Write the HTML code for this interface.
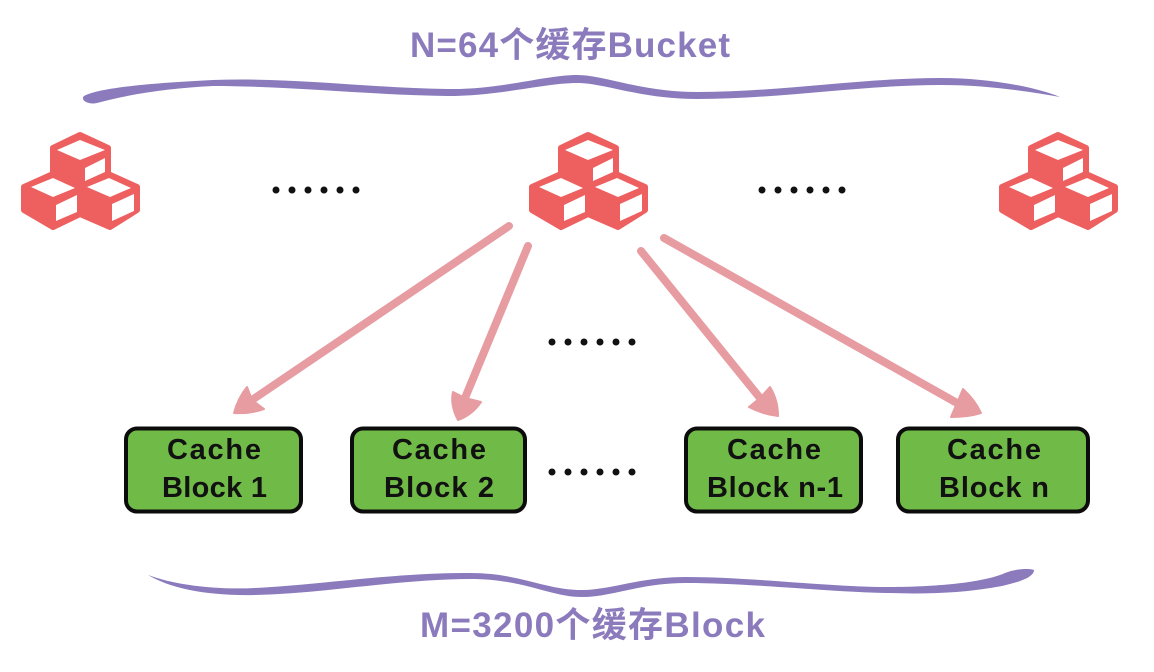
<!DOCTYPE html>
<html><head><meta charset="utf-8"><style>
html,body{margin:0;padding:0;background:#fff}
svg{display:block}
text{font-family:"Liberation Sans","Noto Sans CJK SC",sans-serif;font-weight:700}
.c{font-size:29px;fill:#111}
.p{font-size:35px;fill:#8b7bbd}
</style></head><body>
<svg width="1154" height="672" viewBox="0 0 1154 672" xmlns="http://www.w3.org/2000/svg">
<defs>
<g id="cube">
<path d="M80 135 L108 148 V174 L137 187 V210 L110 227 L80 214 L53 227 L24 210 V187 L53 174 V148 Z" fill="#ee5f5f" stroke="#ee5f5f" stroke-width="6" stroke-linejoin="round"/>
<g fill="#fff">
<path d="M57 150 L80 140 L105 150 L80 160Z"/>
<path d="M85 168 L105 158 V172 L85 181Z"/>
<path d="M31 187 L53 178 L75 188 L53 197Z"/>
<path d="M56 205 L77 195 V212 L56 221Z"/>
<path d="M87 187 L109 178 L131 188 L110 197Z"/>
<path d="M112 204 L134 194 V211 L112 221Z"/>
</g>
</g>
<g id="dots" fill="#111">
<circle cx="0" cy="0" r="3.5"/><circle cx="16" cy="0" r="3.5"/><circle cx="32" cy="0" r="3.5"/><circle cx="48" cy="0" r="3.5"/><circle cx="64" cy="0" r="3.5"/><circle cx="80" cy="0" r="3.5"/>
</g>
</defs>

<text class="p" x="410" y="57" textLength="320" lengthAdjust="spacing">N=64个缓存Bucket</text>
<path d="M84 96 C95 90 130 84 213 80 C290 77 370 88 447 89 C500 90 545 75 577 75 C605 75 640 92 698 92 C780 92 860 78 941 78 C990 78 1035 87 1060 97 C1030 92 990 85 941 85 C860 85 780 99 698 99 C640 99 605 83 577 83 C545 83 500 96 447 96 C370 95 290 86 213 86 C170 88 130 94 97 103 C88 105 80 100 84 96Z" fill="#8b7bbd"/>

<use href="#cube"/>
<use href="#cube" x="508"/>
<use href="#cube" x="978"/>

<use href="#dots" x="276" y="190"/>
<use href="#dots" x="762" y="190"/>
<use href="#dots" x="552" y="342"/>
<use href="#dots" x="552" y="472"/>

<g stroke="#e79ca2" stroke-width="8" stroke-linecap="round" fill="none">
<path d="M509 226 L252 400"/>
<path d="M528 246 L465 398"/>
<path d="M641 251 L760 398"/>
<path d="M664 238 L957 403"/>
</g>
<g fill="#e79ca2" stroke="#e79ca2" stroke-width="2" stroke-linejoin="round">
<path d="M234 413 Q238 398 247 387 L252 400 L264 409 Q250 414 234 413Z"/>
<path d="M458 420 Q450 405 453 392 L465 398 L481 402 Q472 415 458 420Z"/>
<path d="M778 416 Q778 400 770 387 L760 398 L749 407 Q762 414 778 416Z"/>
<path d="M981 413 Q975 400 963 389 L957 403 L951 417 Q968 417 981 413Z"/>
</g>

<g fill="#70bb47" stroke="#0c0c0c" stroke-width="4">
<rect x="126" y="428.500" width="175" height="83" rx="11"/>
<rect x="352" y="428.500" width="173" height="83" rx="11"/>
<rect x="686" y="428.500" width="175" height="83" rx="11"/>
<rect x="898" y="428.500" width="190" height="83" rx="11"/>
</g>
<text class="c" x="167" y="459" textLength="94">Cache</text>
<text class="c" x="162" y="497" textLength="105">Block 1</text>
<text class="c" x="392" y="459" textLength="94">Cache</text>
<text class="c" x="384" y="497" textLength="110">Block 2</text>
<text class="c" x="727" y="459" textLength="94">Cache</text>
<text class="c" x="707" y="497" textLength="136">Block n-1</text>
<text class="c" x="947" y="459" textLength="94">Cache</text>
<text class="c" x="939" y="497" textLength="110">Block n</text>

<path d="M148 575 C175 585 215 590 255 588 C320 585 400 572 470 573 C520 573 545 590 582 590 C610 590 640 577 686 577 C750 577 830 587 887 587 C940 587 985 582 1005 573 C1015 569 1028 568 1034 570 C1034 577 1020 582 1002 586 C960 594 920 594 887 593 C830 592 750 583 686 583 C640 583 612 597 582 597 C550 597 525 579 470 579 C400 579 320 594 255 595 C205 596 170 588 148 575Z" fill="#8b7bbd"/>
<text class="p" x="420" y="637" textLength="345" lengthAdjust="spacing">M=3200个缓存Block</text>
</svg>
</body></html>
